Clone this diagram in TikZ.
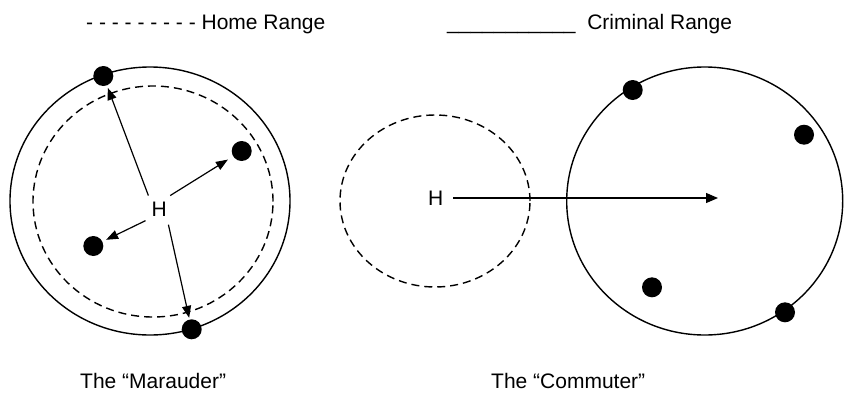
\documentclass[tikz,border=0pt]{standalone}
\usepackage{fontspec}
\setmainfont{Liberation Sans}
\usetikzlibrary{arrows.meta}
\begin{document}
\begin{tikzpicture}[x=1pt,y=-1pt,
  lbl/.style={font=\fontsize{21}{25}\selectfont, inner sep=0pt, anchor=base west},
  dot/.style={circle, fill=black, inner sep=0pt, minimum size=20pt},
  hnode/.style={circle, inner sep=0pt, minimum size=35pt, font=\fontsize{21}{25}\selectfont},
  rng/.style={line width=1.4pt},
  home/.style={line width=1.4pt, dash pattern=on 8pt off 5pt},
  arr/.style={line width=1.2pt, -{Triangle[length=12pt,width=9pt]}}]
\useasboundingbox (0,0) rectangle (845,394);

% legend
\node[lbl] (homelbl) at (86,29) {- - - - - - - - - Home Range};
\node[lbl] (crimlbl) at (447,29) {\textunderscore\textunderscore\textunderscore\textunderscore\textunderscore\textunderscore\textunderscore\textunderscore\textunderscore\textunderscore\textunderscore\ \ Criminal Range};

% Marauder
\draw[rng] (150,201) ellipse [x radius=140pt, y radius=134pt];
\draw[home] (153,201.5) ellipse [x radius=120pt, y radius=115.5pt];
\node[hnode] (HL) at (159.3,209.5) {H};
\node[dot] (A) at (103.3,76) {};
\node[dot] (B) at (241.7,151) {};
\node[dot] (C) at (93.3,246) {};
\node[dot] (D) at (191.7,329.3) {};
\draw[arr, shorten >=2.5pt] (HL.128) -- (A);
\draw[arr, shorten >=6pt] (HL.52) -- (B);
\draw[arr, shorten >=4pt] (HL.-141) -- (C);
\draw[arr, shorten >=1.5pt] (HL.-59) -- (D);

% Commuter
\draw[home] (435,201) ellipse [x radius=95pt, y radius=86pt];
\draw[rng] (704.7,201) ellipse [x radius=138pt, y radius=134pt];
\node[hnode] (HR) at (435.7,198) {H};
\coordinate (tgt) at (718,198);
\draw[arr, -{Triangle[length=12pt,width=10pt]}] (HR.east) -- (tgt);
\node[dot] (E) at (632.7,90) {};
\node[dot] (F) at (804,134.7) {};
\node[dot] (G) at (652,287.3) {};
\node[dot] (K) at (785,312.3) {};

% captions
\node[lbl] (maraud) at (80,388) {The “Marauder”};
\node[lbl] (commut) at (491,388) {The “Commuter”};
\end{tikzpicture}
\end{document}
